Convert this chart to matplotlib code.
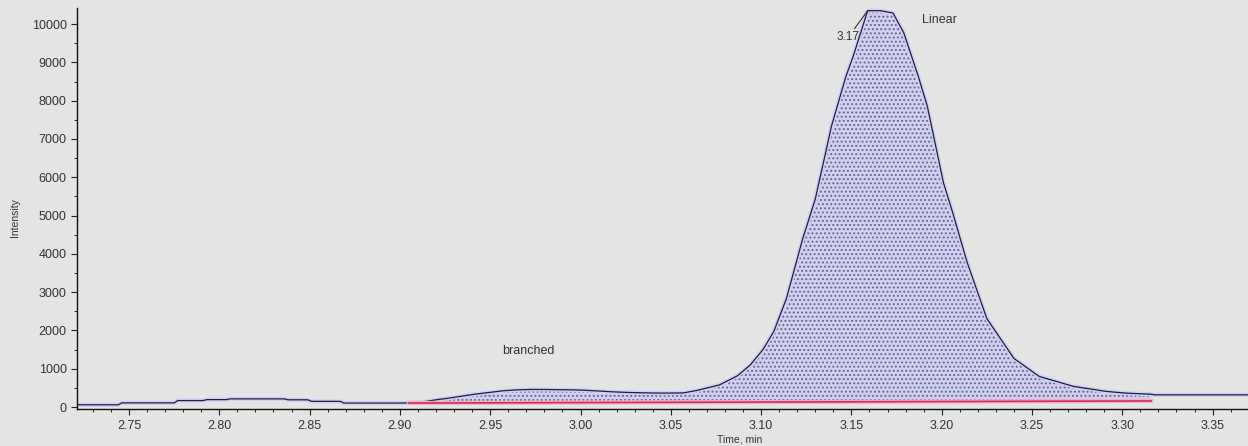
import numpy as np
import matplotlib.pyplot as plt
from matplotlib.ticker import MultipleLocator

# XIC trace (time in min, intensity in counts)
time_min = [
    2.721, 2.744, 2.746, 2.775, 2.777, 2.791, 2.793, 2.804, 2.806, 2.836,
    2.838, 2.849, 2.851, 2.867, 2.869, 2.900, 2.905, 2.912, 2.920, 2.928,
    2.935, 2.942, 2.950, 2.957, 2.965, 2.972, 2.980, 2.987, 2.995, 3.002,
    3.010, 3.017, 3.025, 3.032, 3.040, 3.047, 3.057, 3.065, 3.077, 3.087,
    3.094, 3.101, 3.107, 3.114, 3.123, 3.130, 3.139, 3.147, 3.151, 3.159,
    3.166, 3.173, 3.179, 3.187, 3.192, 3.201, 3.206, 3.214, 3.225, 3.240,
    3.254, 3.273, 3.291, 3.302, 3.316, 3.318, 3.370,
]
intensity = [
    60, 60, 110, 110, 170, 170, 195, 195, 215, 215,
    190, 190, 150, 150, 105, 105, 110, 130, 190, 240,
    290, 340, 385, 425, 450, 460, 460, 455, 450, 440,
    420, 400, 385, 375, 368, 365, 370, 440, 580, 820,
    1100, 1500, 1970, 2830, 4390, 5430, 7340, 8640, 9160, 10350,
    10350, 10290, 9770, 8640, 7860, 5850, 5090, 3790, 2310, 1270,
    800, 540, 410, 365, 335, 320, 320,
]

# integration baseline (start / end of the integrated region)
base_time = [2.905, 3.316]
base_level = [105, 160]

peak_rt = "3.17"
peak_apex = (3.159, 10350)

bg = "#e4e4e4"
font = ["Liberation Sans Narrow", "Liberation Sans", "DejaVu Sans"]
plt.rcParams["font.family"] = font
plt.rcParams["hatch.linewidth"] = 0.9

fig = plt.figure(figsize=(12.48, 4.46), dpi=100, facecolor=bg)
ax = fig.add_axes([77 / 1248, 1 - 409 / 446, 1 - 77 / 1248, (409 - 8) / 446])
ax.set_facecolor(bg)

t = np.array(time_min)
y = np.array(intensity)

# shaded integrated area between trace and baseline
inside = (t >= base_time[0]) & (t <= base_time[1])
base_at_t = np.interp(t, base_time, base_level)
ax.fill_between(t, y, base_at_t, where=inside, facecolor="#d0d0ee",
                edgecolor="#62629a", hatch="....", linewidth=0, zorder=2)

ax.plot(t, y, color="#d0d0ee", lw=3.0, zorder=2.5)
ax.plot(t, y, color="#1c1c4a", lw=0.9, zorder=3)
ax.plot(base_time, base_level, color="#f2b0c8", lw=3.0, zorder=3)
ax.plot(base_time, base_level, color="#d42a5c", lw=1.2, zorder=3.5)

# peak labels
ax.annotate(peak_rt, xy=peak_apex, xytext=(3.1545, 9650),
            ha="right", va="center", fontsize=8.5, color="#333333",
            arrowprops=dict(arrowstyle="-", color="#333333", lw=0.8,
                            shrinkA=0, shrinkB=0), zorder=4)
ax.text(3.199, 10110, "Linear", ha="center", va="center",
        fontsize=9, color="#333333")
ax.text(2.971, 1460, "branched", ha="center", va="center",
        fontsize=9, color="#333333")

ax.set_xlim(2.7212, 3.3696)
ax.set_ylim(-50, 10420)
ax.xaxis.set_major_locator(MultipleLocator(0.05))
ax.xaxis.set_minor_locator(MultipleLocator(0.01))
ax.yaxis.set_major_locator(MultipleLocator(1000))
ax.yaxis.set_minor_locator(MultipleLocator(500))
ax.xaxis.set_major_formatter(plt.FuncFormatter(lambda v, p: f"{v:.2f}"))

for side in ("top", "right"):
    ax.spines[side].set_visible(False)
for side in ("left", "bottom"):
    ax.spines[side].set_color("#111111")
    ax.spines[side].set_linewidth(1.0)

ax.tick_params(axis="both", which="major", length=4, width=0.8,
               labelsize=9, labelcolor="#333333", color="#222222")
ax.tick_params(axis="both", which="minor", length=2, width=0.7,
               color="#222222")
ax.tick_params(axis="x", pad=4)

fig.text(740 / 1248, 1 - 440 / 446, "Time, min", ha="center", va="center",
         fontsize=7.5, color="#333333")
fig.text(15 / 1248, 1 - 218 / 446, "Intensity", ha="center", va="center",
         rotation=90, fontsize=7.5, color="#333333")

fig.savefig("out.png", dpi=100, facecolor=bg)
